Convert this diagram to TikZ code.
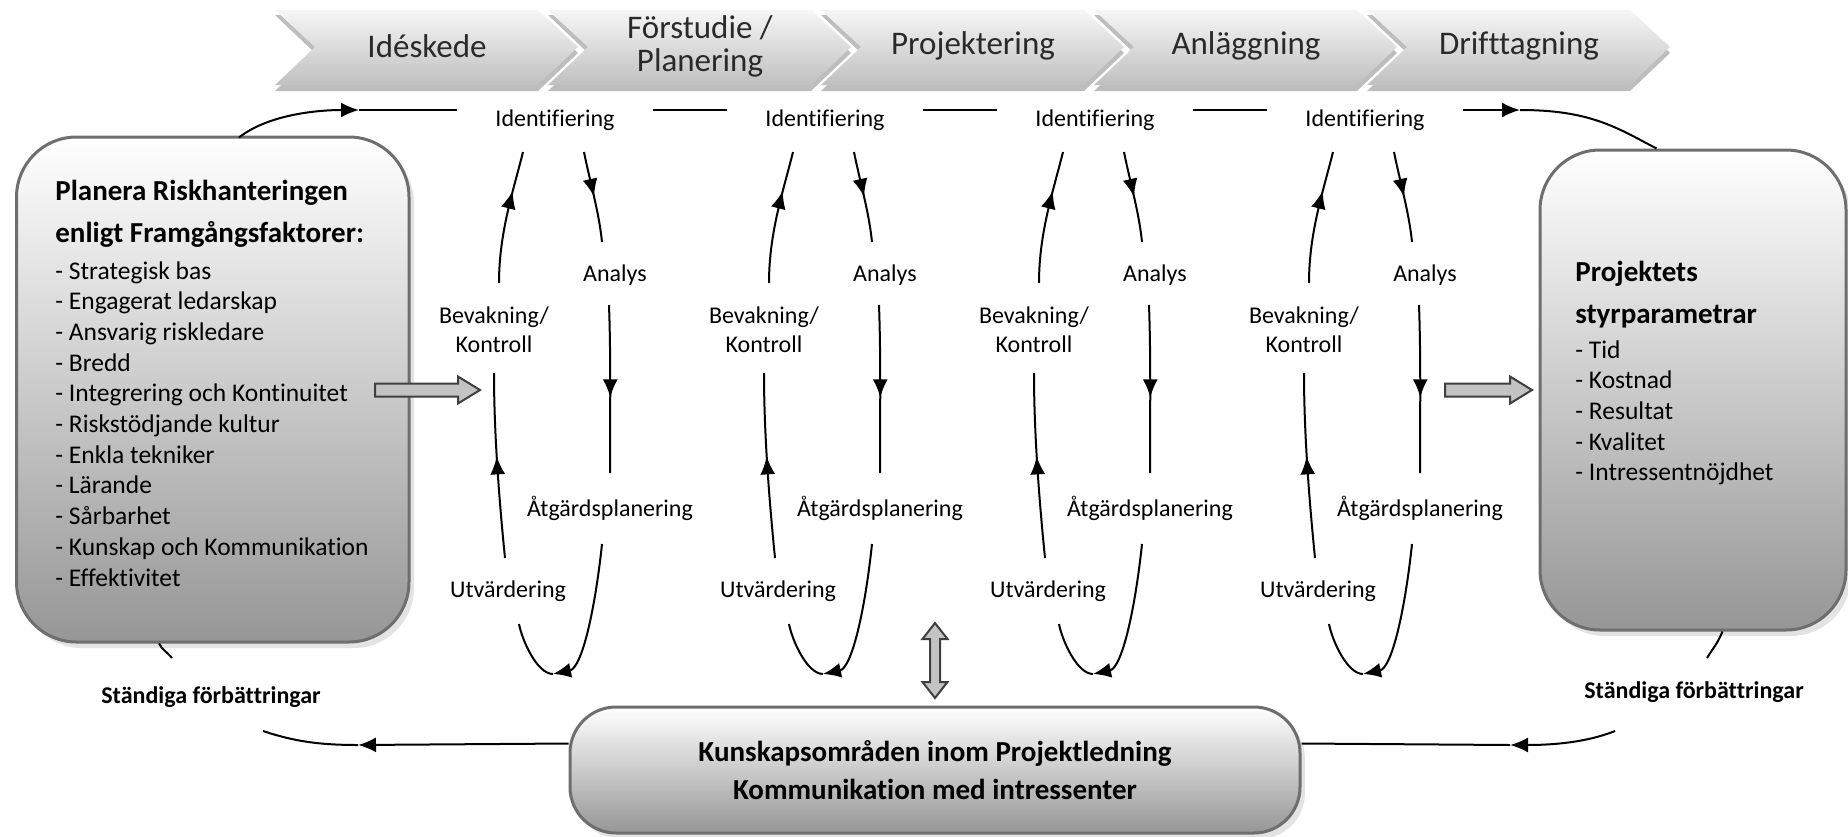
\documentclass[tikz,border=0pt]{standalone}
\usepackage{fontspec}
\setmainfont{Carlito}[Ligatures={NoCommon,NoContextual}]
\usetikzlibrary{arrows.meta,calc,decorations.markings,shadows}

\definecolor{boxedge}{HTML}{6E6E6E}
\definecolor{boxlow}{HTML}{969696}
\definecolor{chevhigh}{HTML}{F6F6F6}
\definecolor{chevlow}{HTML}{C0C0C0}
\definecolor{chevshade}{HTML}{BDBDBD}
\definecolor{blockfill}{HTML}{C3C3C3}
\definecolor{blockedge}{HTML}{3F3F3F}
\definecolor{labelink}{HTML}{2A2A2A}

\newcommand\chevfont{\fontsize{16.5}{16.5}\selectfont}
\newcommand\headfont{\fontsize{14.5}{21}\selectfont\bfseries}
\newcommand\listfont{\fontsize{12.75}{15.35}\selectfont}
\newcommand\stagefont{\fontsize{12}{14.5}\selectfont}

\tikzset{
  flow/.style={line width=1pt},
  endtip/.style={-{Latex[length=9pt,width=7.5pt]}},
  midtip/.style={postaction={decorate},decoration={markings,
     mark=at position #1 with {\arrow{Latex[length=9pt,width=7.5pt]}}}},
  stage/.style={inner sep=0pt, font=\stagefont, align=center},
  panel/.style={draw=boxedge, line width=1.5pt, top color=white, bottom color=boxlow,
     drop shadow={shadow xshift=2.5pt, shadow yshift=-3pt, fill=black!22}},
  blockarrow/.style={fill=blockfill, draw=blockedge, line width=1pt, line join=miter},
  chevron/.style={top color=chevhigh, bottom color=chevlow},
  chevlabel/.style={font=\chevfont, text=labelink, align=center, inner sep=0pt},
  note/.style={font=\fontsize{12}{14}\selectfont\bfseries, inner sep=0pt},
}

\begin{document}
\begin{tikzpicture}[x=0.5pt,y=-0.5pt]
\useasboundingbox (0,0) rectangle (1848,836);

% phase chevrons along the top
\foreach \k/\x/\t in {1/275/{Idéskede},2/548/{Förstudie /\\Planering},3/821/{Projektering},4/1094/{Anläggning},5/1367/{Drifttagning}} {
  \fill[chevshade] (\x,15) -- (\x+263,15) -- (\x+303,53) -- (\x+263,91) -- (\x,91) -- (\x+40,53) -- cycle;
  \shade[chevron] (\x,10) -- (\x+263,10) -- (\x+303,47) -- (\x+263,85) -- (\x,85) -- (\x+40,47) -- cycle;
  \node[chevlabel] (ch\k) at (\x+152,46) {\t};
}

% side and bottom panels
\node[panel, rounded corners=30pt, minimum width=196.25pt, minimum height=252.5pt, inner sep=0pt] (lbox) at (212.75,389.5) {};
\node[panel, rounded corners=30pt, minimum width=153pt, minimum height=240pt, inner sep=0pt] (rbox) at (1693,390) {};
\node[panel, rounded corners=23pt, minimum width=365pt, minimum height=63pt, inner sep=0pt,
      font=\fontsize{14.5}{19}\selectfont\bfseries, align=center] (bbox) at (935,770)
      {Kunskapsområden inom Projektledning\\Kommunikation med intressenter};

\node[anchor=base west, inner sep=0pt] (lhead) at (55,200)
  {\parbox[t]{180pt}{\raggedright\headfont Planera Riskhanteringen\\enligt Framgångsfaktorer:}};
\node[anchor=base west, inner sep=0pt] (llist) at (55,279)
  {\parbox[t]{180pt}{\raggedright\listfont
   - Strategisk bas\\
   - Engagerat ledarskap\\
   - Ansvarig riskledare\\
   - Bredd\\
   - Integrering och Kontinuitet\\
   - Riskstödjande kultur\\
   - Enkla tekniker\\
   - Lärande\\
   - Sårbarhet\\
   - Kunskap och Kommunikation\\
   - Effektivitet}};

\node[anchor=base west, inner sep=0pt] (rhead) at (1575,281)
  {\parbox[t]{140pt}{\raggedright\headfont Projektets\\styrparametrar}};
\node[anchor=base west, inner sep=0pt] (rlist) at (1575,358)
  {\parbox[t]{140pt}{\raggedright\listfont
   - Tid\\
   - Kostnad\\
   - Resultat\\
   - Kvalitet\\
   - Intressentnöjdhet}};

% one risk cycle per phase
\foreach \i/\cx in {1/555,2/825,3/1095,4/1365} {
  \node[stage] (id\i)  at (\cx,120)    {Identifiering};
  \node[stage] (ana\i) at (\cx+60,275) {Analys};
  \node[stage] (bev\i) at (\cx-61,330) {Bevakning/\\Kontroll};
  \node[stage] (atg\i) at (\cx+55,508) {Åtgärdsplanering};
  \node[stage] (utv\i) at (\cx-47,591) {Utvärdering};
  \coordinate (low\i) at (\cx-2,674);

  \draw[flow,midtip=0.7] ($(bev\i)+(5,-47)$) .. controls +(0,-50) and +(-10,40) .. ($(id\i)+(-32,32)$);
  \draw[flow,midtip=0.5] ($(id\i)+(29,32)$) .. controls +(6,30) and +(-3,-30) .. ($(ana\i)+(-13,-33)$);
  \draw[flow,midtip=0.55] ($(ana\i)+(-6,30)$) .. controls +(2,55) and +(0,-55) .. ($(atg\i)+(0,-35)$);
  \draw[flow,endtip] ($(atg\i)+(-8,36)$) .. controls +(-7,66) and +(29,-6) .. (low\i);
  \draw[flow] (low\i) .. controls +(-16,0) and +(3,16) .. ($(utv\i)+(11,33)$);
  \draw[flow,midtip=0.55] ($(utv\i)+(-3,-33)$) .. controls +(-6,-60) and +(0,60) .. ($(bev\i)+(0,43)$);
}

% the continuous improvement loop
\node[note] (stL) at (211,697) {Ständiga förbättringar};
\node[note] (stR) at (1694,692) {Ständiga förbättringar};

\coordinate (loopA) at (359,110);
\coordinate (loopB) at (1520,110);
\coordinate (loopC) at (1510,745);
\coordinate (loopD) at (358,745);

\draw[flow,endtip] ($(lbox.north west)+(224,2)$) .. controls +(28,-22) and +(-45,0) .. (loopA);
\draw[flow] (loopA) -- ($(id1.west)+(-38,-10)$);
\foreach \a/\b in {1/2,2/3,3/4}
  \draw[flow] ($(id\a.east)+(38,-10)$) -- ($(id\b.west)+(-38,-10)$);
\draw[flow,endtip] ($(id4.east)+(38,-10)$) -- (loopB);
\draw[flow] (loopB) .. controls +(70,0) and +(-40,-21) .. ($(rbox.north west)+(118,0)$);

\draw[flow] ($(rbox.south west)+(184,0)$) .. controls +(-6,14) and +(6,-10) .. ($(stR)+(13,-34)$);
\draw[flow,endtip] ($(stR)+(-79,39)$) .. controls +(-30,12) and +(40,0) .. (loopC);
\draw[flow] (loopC) -- ($(bbox.north east)+(0,38)$);

\draw[flow,endtip] ($(bbox.north west)+(0,38)$) -- (loopD);
\draw[flow] (loopD) .. controls +(-40,0) and +(30,10) .. ($(stL)+(52,34)$);
\draw[flow] ($(stL)+(-39,-39)$) .. controls +(-5,-6) and +(3,6) .. ($(lbox.south west)+(144,0)$);

% block arrows
\draw[blockarrow] (375,383.5) -- (458,383.5) -- (458,376.5) -- (480,390) -- (458,403.5) -- (458,396.5) -- (375,396.5) -- cycle;
\draw[blockarrow] (1445,383.5) -- (1510,383.5) -- (1510,376.5) -- (1532,390) -- (1510,403.5) -- (1510,396.5) -- (1445,396.5) -- cycle;
\draw[blockarrow] (935,623) -- (947.5,639) -- (940,639) -- (940,682) -- (947.5,682) -- (935,698) -- (922.5,682) -- (930,682) -- (930,639) -- (922.5,639) -- cycle;
\end{tikzpicture}
\end{document}
